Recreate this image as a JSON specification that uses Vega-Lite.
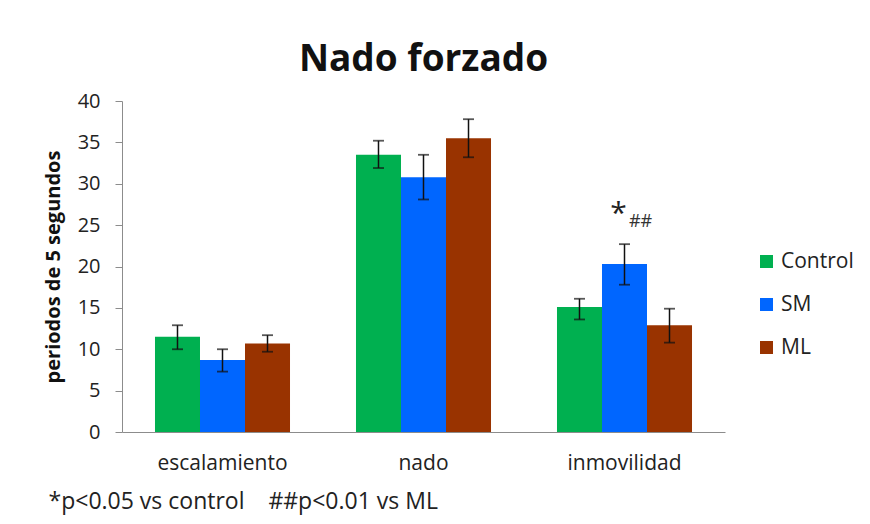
{
  "$schema": "https://vega.github.io/schema/vega-lite/v6.json",
  "autosize": "none",
  "width": 603,
  "height": 331,
  "padding": {"left": 122, "top": 101, "right": 145, "bottom": 92},
  "background": "white",
  "config": {
    "font": "Open Sans",
    "view": {"stroke": null},
    "axis": {"labelColor": "#222", "titleColor": "#111", "domainColor": "#8c8c8c", "tickColor": "#8c8c8c", "grid": false}
  },
  "title": {
    "text": "Nado forzado",
    "fontSize": 37,
    "fontWeight": "bold",
    "color": "#111",
    "anchor": "middle",
    "offset": 12
  },
  "datasets": {
    "bars": [
      {"prueba": "escalamiento", "grupo": "Control", "media": 11.5, "bajo": 10.0, "alto": 12.9},
      {"prueba": "escalamiento", "grupo": "SM", "media": 8.7, "bajo": 7.3, "alto": 10.0},
      {"prueba": "escalamiento", "grupo": "ML", "media": 10.7, "bajo": 9.7, "alto": 11.7},
      {"prueba": "nado", "grupo": "Control", "media": 33.5, "bajo": 31.9, "alto": 35.2},
      {"prueba": "nado", "grupo": "SM", "media": 30.8, "bajo": 28.1, "alto": 33.5},
      {"prueba": "nado", "grupo": "ML", "media": 35.5, "bajo": 33.2, "alto": 37.8},
      {"prueba": "inmovilidad", "grupo": "Control", "media": 15.1, "bajo": 13.6, "alto": 16.1},
      {"prueba": "inmovilidad", "grupo": "SM", "media": 20.3, "bajo": 17.8, "alto": 22.7},
      {"prueba": "inmovilidad", "grupo": "ML", "media": 12.9, "bajo": 10.8, "alto": 14.9}
    ],
    "marcas": [
      {"prueba": "inmovilidad", "grupo": "SM", "y": 26.3, "texto": "*"},
      {"prueba": "inmovilidad", "grupo": "SM", "y": 25.4, "texto": "##"}
    ]
  },
  "encoding": {
    "x": {
      "field": "prueba",
      "type": "nominal",
      "sort": ["escalamiento", "nado", "inmovilidad"],
      "scale": {"paddingInner": 0, "paddingOuter": 0},
      "axis": {
        "title": "*p<0.05 vs control\u00a0\u00a0\u00a0\u00a0##p<0.01 vs ML",
        "titleFontSize": 23,
        "titleFontWeight": "normal",
        "titleColor": "#222",
        "titleAnchor": "start",
        "titleAlign": "left",
        "titleBaseline": "alphabetic",
        "titleX": -74,
        "titleY": 76,
        "labelAngle": 0,
        "labelFontSize": 21,
        "labelPadding": 20,
        "ticks": false
      }
    },
    "xOffset": {
      "field": "grupo",
      "type": "nominal",
      "sort": ["Control", "SM", "ML"],
      "scale": {"paddingInner": 0, "paddingOuter": 0.733}
    }
  },
  "layer": [
    {
      "data": {"name": "bars"},
      "mark": {"type": "bar"},
      "encoding": {
        "y": {
          "field": "media",
          "type": "quantitative",
          "scale": {"domain": [0, 40], "nice": false},
          "axis": {
            "title": "periodos de 5 segundos",
            "titleFontSize": 20,
            "titleFontWeight": "bold",
            "titlePadding": 14,
            "labelFontSize": 20,
            "labelPadding": 15,
            "tickSize": 7,
            "values": [0, 5, 10, 15, 20, 25, 30, 35, 40]
          }
        },
        "color": {
          "field": "grupo",
          "type": "nominal",
          "sort": ["Control", "SM", "ML"],
          "scale": {"domain": ["Control", "SM", "ML"], "range": ["#00b050", "#0066ff", "#993300"]},
          "legend": {
            "title": null,
            "orient": "none",
            "legendX": 634,
            "legendY": 150,
            "symbolType": "square",
            "symbolSize": 170,
            "symbolStrokeWidth": 0,
            "labelFontSize": 21,
            "labelColor": "#222",
            "labelOffset": 4,
            "rowPadding": 21
          }
        }
      }
    },
    {
      "data": {"name": "bars"},
      "mark": {"type": "rule", "color": "#111", "strokeWidth": 1.5},
      "encoding": {
        "y": {"field": "bajo", "type": "quantitative"},
        "y2": {"field": "alto"}
      }
    },
    {
      "data": {"name": "bars"},
      "mark": {"type": "tick", "color": "#111", "size": 11, "thickness": 1.8},
      "encoding": {"y": {"field": "alto", "type": "quantitative"}}
    },
    {
      "data": {"name": "bars"},
      "mark": {"type": "tick", "color": "#111", "size": 11, "thickness": 1.8},
      "encoding": {"y": {"field": "bajo", "type": "quantitative"}}
    },
    {
      "data": {"name": "marcas"},
      "transform": [{"filter": "datum.texto == '*'"}],
      "mark": {"type": "text", "color": "#222", "baseline": "middle", "align": "center", "fontSize": 30, "dx": -6},
      "encoding": {
        "y": {"field": "y", "type": "quantitative"},
        "text": {"field": "texto"}
      }
    },
    {
      "data": {"name": "marcas"},
      "transform": [{"filter": "datum.texto == '##'"}],
      "mark": {"type": "text", "color": "#333", "baseline": "middle", "align": "center", "fontSize": 18, "dx": 16},
      "encoding": {
        "y": {"field": "y", "type": "quantitative"},
        "text": {"field": "texto"}
      }
    }
  ]
}
